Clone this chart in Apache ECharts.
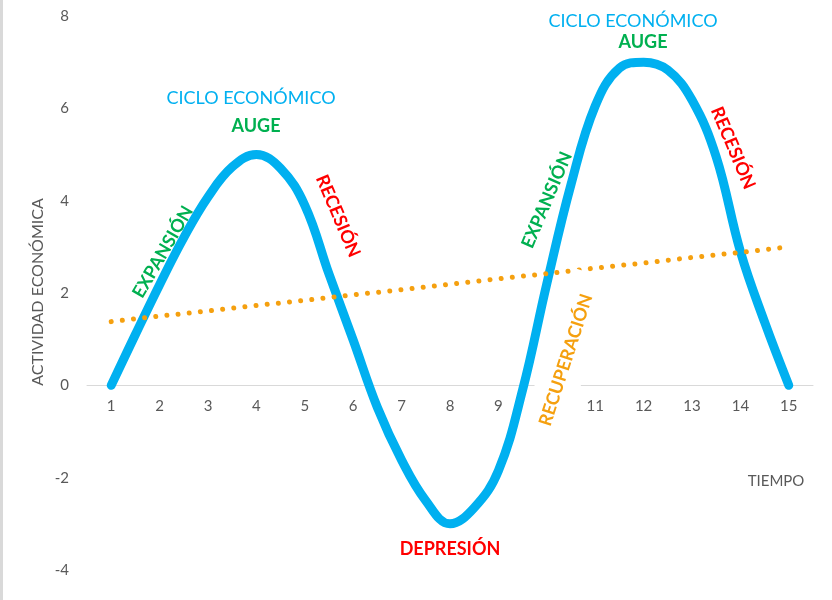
<!DOCTYPE html>
<html>
<head>
<meta charset="utf-8">
<script src="https://cdn.jsdelivr.net/npm/echarts@6/dist/echarts.min.js"></script>
<style>
  html, body { margin: 0; padding: 0; background: #fff; }
  #cicloChart { width: 832px; height: 600px; }
</style>
</head>
<body>
<div id="cicloChart"></div>
<script>
  // datos
  var periodos = ['1', '2', '3', '4', '5', '6', '7', '8', '9', '10', '11', '12', '13', '14', '15']
  // curva de actividad leída cada medio periodo
  var tiempoLectura = [1, 1.5, 2, 2.5, 3, 3.5, 4, 4.5, 5, 5.5, 6, 6.5, 7, 7.5, 8, 8.5, 9, 9.5, 10, 10.5, 11, 11.5, 12, 12.5, 13, 13.5, 14, 14.5, 15]
  var actividad = [0, 1.1, 2.18, 3.2, 4.08, 4.73, 5.0, 4.7, 3.9, 2.41, 0.98, -0.48, -1.62, -2.5, -3.0, -2.65, -1.85, -0.1, 2.2, 4.35, 6.05, 6.87, 7.0, 6.83, 6.18, 4.95, 2.9, 1.37, 0]
  var tendencia = [1.38, 1.5, 1.61, 1.73, 1.84, 1.96, 2.07, 2.19, 2.31, 2.42, 2.54, 2.65, 2.77, 2.88, 3.0]
  var yTicks = { min: -4, max: 8, interval: 2 }

  var fuente = 'Lato, "Open Sans", sans-serif'
  var gris = '#595959'
  var azul = '#00b0f0'
  var verde = '#00b050'
  var rojo = '#ff0000'
  var naranja = '#f5a00f'

  var puntosActividad = []
  for (var i = 0; i < tiempoLectura.length; i++) {
    puntosActividad.push([tiempoLectura[i], actividad[i]])
  }

  function etiqueta(texto, x, y, color, grados, extra) {
    var el = {
      type: 'text',
      x: x,
      y: y,
      rotation: grados * Math.PI / 180,
      z: 100,
      style: {
        text: texto,
        fill: color,
        font: 'bold 18px ' + fuente,
        textAlign: 'center',
        textVerticalAlign: 'middle'
      }
    }
    if (extra) {
      for (var k in extra) el.style[k] = extra[k]
    }
    return el
  }

  var option = {
    animation: false,
    backgroundColor: '#fff',
    grid: {
      left: 87,
      right: 19,
      top: 16,
      bottom: 30
    },
    xAxis: [
      {
        type: 'category',
        data: periodos,
        boundaryGap: true,
        offset: -185,
        axisLine: {
          onZero: false,
          lineStyle: { color: '#d9d9d9', width: 1 }
        },
        axisTick: { show: false },
        axisLabel: {
          color: gris,
          fontSize: 15,
          fontFamily: fuente,
          margin: 14
        },
        splitLine: { show: false }
      },
      {
        // eje oculto para la curva leída cada medio periodo
        type: 'value',
        show: false,
        min: 0.5,
        max: 15.5
      }
    ],
    yAxis: {
      type: 'value',
      min: yTicks.min,
      max: yTicks.max,
      interval: yTicks.interval,
      axisLine: { show: false },
      axisTick: { show: false },
      splitLine: { show: false },
      axisLabel: {
        color: gris,
        fontSize: 15,
        fontFamily: fuente,
        margin: 18
      }
    },
    series: [
      {
        name: 'Actividad',
        type: 'line',
        xAxisIndex: 1,
        data: puntosActividad,
        smooth: 0.4,
        symbol: 'none',
        lineStyle: {
          color: azul,
          width: 9,
          cap: 'round',
          join: 'round'
        },
        z: 2
      },
      {
        name: 'Tendencia',
        type: 'line',
        xAxisIndex: 0,
        data: tendencia,
        symbol: 'none',
        lineStyle: {
          color: naranja,
          width: 5,
          type: [0.01, 11.2],
          cap: 'round'
        },
        z: 3
      }
    ],
    graphic: [
      { type: 'rect', shape: { x: 0, y: 0, width: 3, height: 600 }, style: { fill: '#d9d9d9' }, z: 100 },
      // cuadro blanco detrás de RECUPERACIÓN (tapa el 10 y el eje)
      {
        type: 'rect',
        x: 566,
        y: 360,
        rotation: 72 * Math.PI / 180,
        shape: { x: -80, y: -22, width: 170, height: 44 },
        style: { fill: '#fff' },
        z: 99
      },
      etiqueta('ACTIVIDAD ECONÓMICA', 38, 292, gris, 90, { font: '16px ' + fuente }),
      etiqueta('CICLO ECONÓMICO', 251, 98, azul, 0, { font: '18px ' + fuente }),
      etiqueta('AUGE', 256, 126, verde, 0),
      etiqueta('EXPANSIÓN', 163, 252, verde, 60),
      etiqueta('RECESIÓN', 338, 216, rojo, -67),
      etiqueta('DEPRESIÓN', 450, 549, rojo, 0),
      etiqueta('EXPANSIÓN', 547, 200, verde, 67),
      etiqueta('RECUPERACIÓN', 566, 360, naranja, 72),
      etiqueta('AUGE', 643, 42, verde, 0),
      etiqueta('CICLO ECONÓMICO', 633, 21, azul, 0, { font: '18px ' + fuente }),
      etiqueta('RECESIÓN', 733, 148, rojo, -67),
      etiqueta('TIEMPO', 776, 481, gris, 0, { font: '15px ' + fuente })
    ]
  }

  var cicloChart = echarts.init(document.getElementById('cicloChart'))
  cicloChart.setOption(option)
</script>
</body>
</html>
